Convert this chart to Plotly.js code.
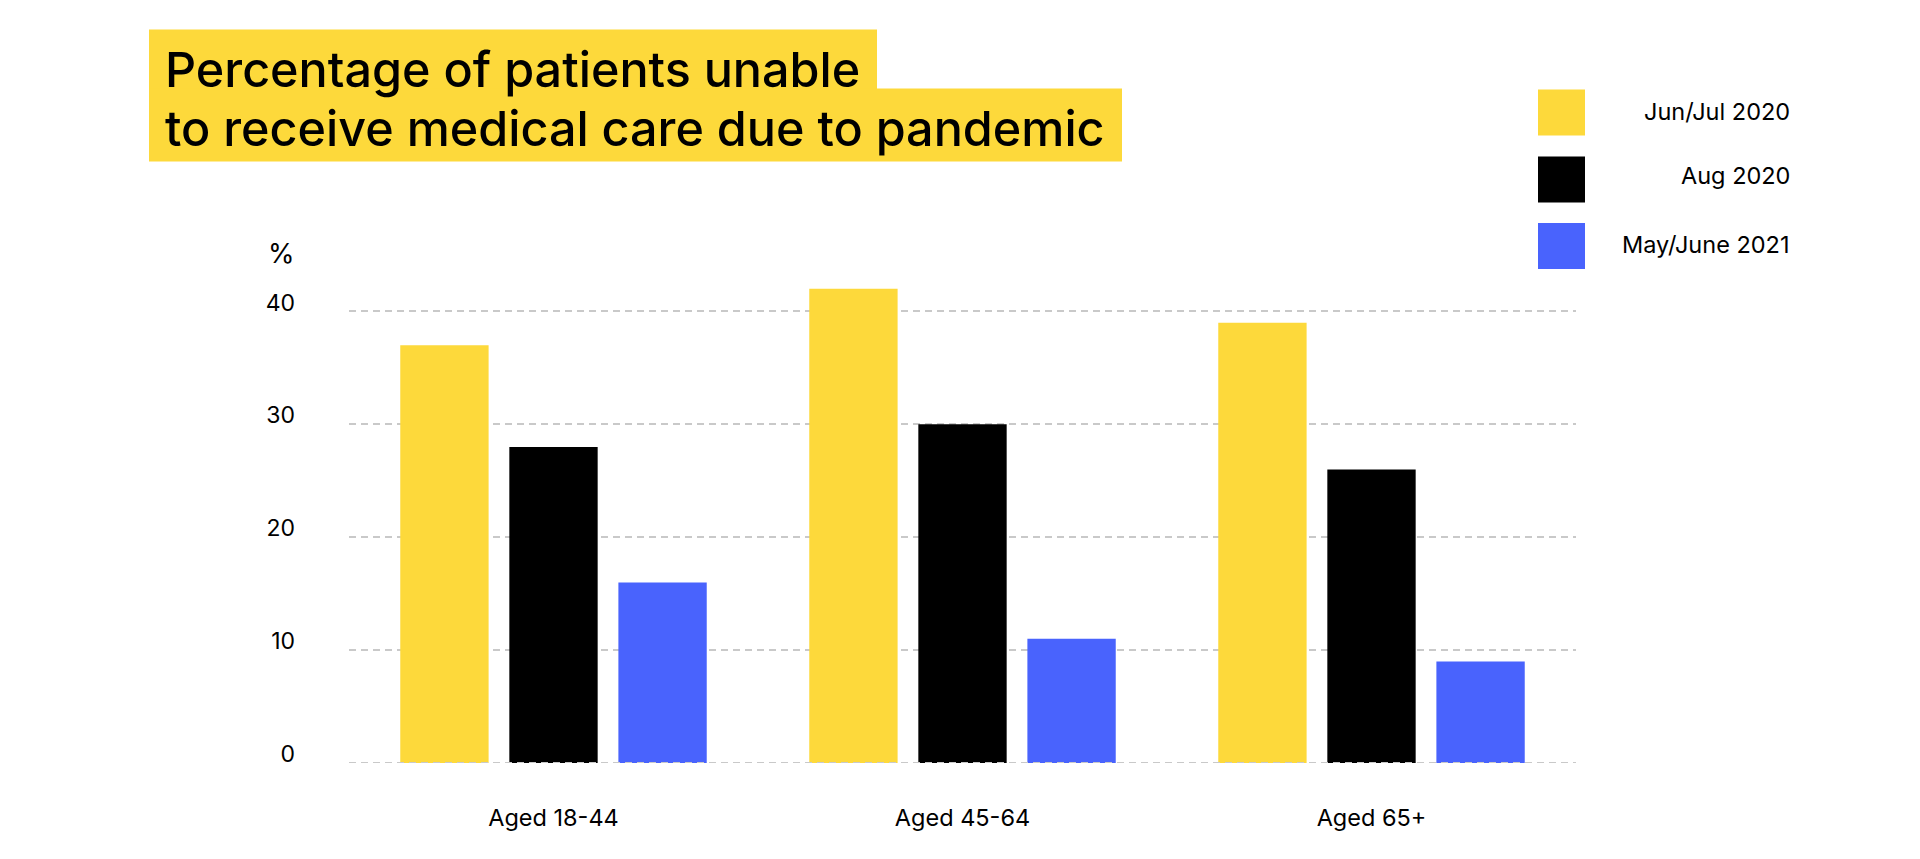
<!DOCTYPE html>
<html>
<head>
<meta charset="utf-8">
<script src="https://cdn.plot.ly/plotly-3.0.1.min.js"></script>
<style>html,body{margin:0;padding:0;background:#fff;}#chart{width:1920px;height:859px;}</style>
</head>
<body>
<div id="chart"></div>
<script>
const categories = ["Aged 18-44", "Aged 45-64", "Aged 65+"];
const seriesNames = ["Jun/Jul 2020", "Aug 2020", "May/June 2021"];
const junJul2020 = [37, 42, 39];
const aug2020 = [28, 30, 26];
const mayJune2021 = [16, 11, 9];
const yTicks = [0, 10, 20, 30, 40];
const titleLines = ["Percentage of patients unable", "to receive medical care due to pandemic"];
const colors = ["#FDD93B", "#000000", "#4963FD"];

const FONT = "Inter, Roboto, 'Liberation Sans', sans-serif";
const seriesValues = [junJul2020, aug2020, mayJune2021];

const traces = seriesValues.map((vals, i) => ({
  type: "bar",
  name: seriesNames[i],
  x: categories,
  y: vals,
  marker: {color: colors[i], line: {width: 0}},
  hoverinfo: "x+y+name"
}));

const W = 1920, H = 859;
const ML = 349, MR = 344, MT = 254.6, MB = 96.1;
const PW = W - ML - MR, PH = H - MT - MB;
const px = v => (v - ML) / PW;          // pixel x -> paper x
const py = v => 1 - (v - MT) / PH;      // pixel y -> paper y

const shapes = [];
const annotations = [];

// Title highlight boxes
shapes.push({type: "rect", xref: "paper", yref: "paper", layer: "above",
  x0: px(149), x1: px(877), y0: py(89), y1: py(29),
  fillcolor: "#FDD93B", line: {width: 0}});
shapes.push({type: "rect", xref: "paper", yref: "paper", layer: "above",
  x0: px(149), x1: px(1122), y0: py(161), y1: py(88),
  fillcolor: "#FDD93B", line: {width: 0}});

annotations.push({
  xref: "paper", yref: "paper", xanchor: "left", yanchor: "top",
  x: px(164), y: py(38),
  text: titleLines[0], showarrow: false, align: "left", borderpad: 0,
  font: {family: FONT, size: 48.5, weight: 500, color: "#000"}
});
annotations.push({
  xref: "paper", yref: "paper", xanchor: "left", yanchor: "top",
  x: px(164), y: py(98),
  text: titleLines[1], showarrow: false, align: "left", borderpad: 0,
  font: {family: FONT, size: 48.5, weight: 500, color: "#000"}
});

// % unit label
annotations.push({
  xref: "paper", yref: "paper", xanchor: "right", yanchor: "middle",
  x: px(297), y: py(253),
  text: "%", showarrow: false,
  font: {family: FONT, size: 27, color: "#000"}
});

// zero line (dashed, over the bars)
shapes.push({type: "line", xref: "paper", yref: "y", layer: "above",
  x0: 0, x1: 1, y0: 0, y1: 0,
  line: {color: "#c9c9c9", width: 2, dash: "7px,5px"}});

// Custom legend
const swTop = [89, 156, 222.5];
const txtMid = [111, 175, 244];
seriesNames.forEach((nm, i) => {
  const y0 = swTop[i], y1 = swTop[i] + 46;
  shapes.push({
    type: "rect", xref: "paper", yref: "paper",
    x0: px(1538), x1: px(1585), y0: py(y1), y1: py(y0),
    fillcolor: colors[i], line: {width: 0}
  });
  annotations.push({
    xref: "paper", yref: "paper", xanchor: "right", yanchor: "middle",
    x: px(1792), y: py(txtMid[i]),
    text: nm, showarrow: false,
    font: {family: FONT, size: 23.5, color: "#000"}
  });
});

const layout = {
  width: W, height: H,
  margin: {l: ML, r: MR, t: MT, b: MB, pad: 0},
  paper_bgcolor: "#fff", plot_bgcolor: "#fff",
  showlegend: false,
  barmode: "group",
  bargap: 0.2,
  bargroupgap: 0.19,
  font: {family: FONT, color: "#000"},
  xaxis: {
    type: "category",
    showgrid: false, zeroline: false, showline: false, ticks: "",
    tickfont: {family: FONT, size: 23.5, color: "#000"},
    ticklabelstandoff: 38
  },
  yaxis: {
    range: [0, 45],
    tickvals: yTicks,
    ticktext: yTicks.map(String),
    showgrid: true, gridcolor: "#c9c9c9", gridwidth: 2, griddash: "7px,5px",
    zeroline: false, showline: false, ticks: "",
    tickfont: {family: FONT, size: 23, color: "#000"},
    ticklabelstandoff: 53,
    ticklabelshift: -9
  },
  shapes: shapes,
  annotations: annotations
};

Plotly.newPlot("chart", traces, layout, {displayModeBar: false, staticPlot: true});
</script>
</body>
</html>
